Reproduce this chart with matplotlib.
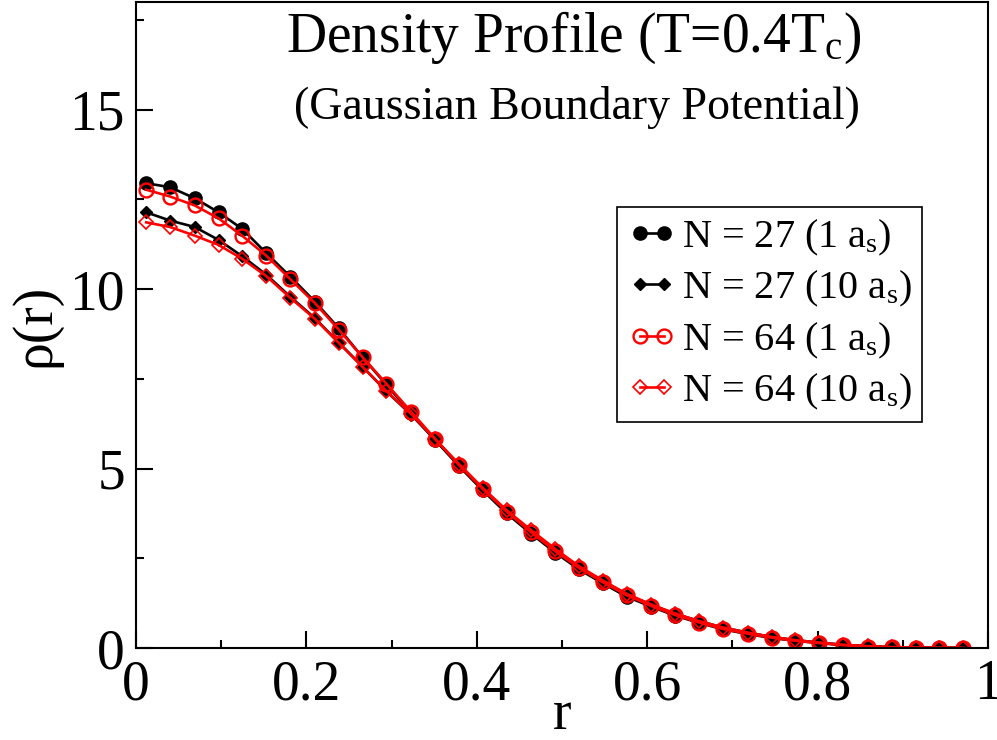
import numpy as np
import matplotlib
matplotlib.use("Agg")
import matplotlib.pyplot as plt

plt.rcParams['font.family'] = ['Liberation Serif', 'DejaVu Serif']
plt.rcParams['mathtext.fontset'] = 'custom'
plt.rcParams['mathtext.rm'] = 'Liberation Serif'
plt.rcParams['mathtext.it'] = 'Liberation Serif:italic'

# radial bins
r = [0.012, 0.040, 0.069, 0.097, 0.125, 0.153, 0.181, 0.210, 0.238, 0.266,
     0.294, 0.323, 0.351, 0.379, 0.407, 0.435, 0.464, 0.492, 0.520, 0.548,
     0.576, 0.605, 0.633, 0.661, 0.689, 0.718, 0.746, 0.774, 0.802, 0.830,
     0.859, 0.887, 0.915, 0.943, 0.971]

# density profiles
rho_27_1 = [12.95, 12.84, 12.53, 12.14, 11.67, 11.00, 10.35, 9.65, 8.91, 8.10,
            7.33, 6.54, 5.80, 5.07, 4.39, 3.75, 3.18, 2.66, 2.19, 1.80,
            1.43, 1.15, 0.90, 0.70, 0.52, 0.39, 0.28, 0.20, 0.14, 0.08,
            0.04, 0.02, 0.01, 0.005, 0.002]
rho_27_10 = [12.14, 11.91, 11.73, 11.37, 10.91, 10.40, 9.79, 9.19, 8.51, 7.84,
             7.15, 6.50, 5.80, 5.10, 4.42, 3.80, 3.24, 2.72, 2.25, 1.86,
             1.49, 1.20, 0.95, 0.75, 0.57, 0.43, 0.31, 0.22, 0.15, 0.09,
             0.05, 0.025, 0.012, 0.006, 0.002]
rho_64_1 = [12.77, 12.58, 12.33, 11.97, 11.48, 10.93, 10.28, 9.61, 8.87, 8.10,
            7.36, 6.58, 5.83, 5.10, 4.43, 3.80, 3.22, 2.70, 2.23, 1.83,
            1.47, 1.17, 0.92, 0.71, 0.53, 0.40, 0.29, 0.20, 0.14, 0.08,
            0.04, 0.02, 0.01, 0.005, 0.002]
rho_64_10 = [11.86, 11.73, 11.49, 11.23, 10.84, 10.36, 9.76, 9.17, 8.50, 7.83,
             7.16, 6.52, 5.82, 5.13, 4.46, 3.84, 3.28, 2.76, 2.28, 1.88,
             1.51, 1.21, 0.96, 0.75, 0.57, 0.43, 0.31, 0.22, 0.15, 0.09,
             0.05, 0.025, 0.012, 0.006, 0.002]

fig = plt.figure(figsize=(9.97, 7.40), dpi=100)
ax = fig.add_axes([0.1364, 0.1243, 0.8546, 0.873])

ax.plot(r, rho_27_1, color='black', lw=1.9, marker='o', ms=9.5,
        label=r'N = 27 (1 a$_\mathregular{s}$)')
ax.plot(r, rho_27_10, color='black', lw=1.9, marker='D', ms=6.5,
        label=r'N = 27 (10 a$_\mathregular{s}$)')
ax.plot(r, rho_64_1, color='red', lw=1.9, marker='o', ms=10, mfc='none',
        mew=1.7, label=r'N = 64 (1 a$_\mathregular{s}$)')
ax.plot(r, rho_64_10, color='red', lw=1.9, marker='D', ms=7, mfc='none',
        mew=1.2, label=r'N = 64 (10 a$_\mathregular{s}$)')

ax.set_xlim(0, 1)
ax.set_ylim(0, 18)
ax.set_xticks([0, 0.2, 0.4, 0.6, 0.8, 1.0])
ax.set_xticklabels(['0', '0.2', '0.4', '0.6', '0.8', '1'])
ax.set_xticks(np.arange(0.1, 1.0, 0.2), minor=True)
ax.set_yticks([0, 5, 10, 15])
ax.set_yticks([2.5, 7.5, 12.5, 17.5], minor=True)
ax.tick_params(which='both', direction='in', width=1.5, labelsize=40,
               top=False, right=False)
ax.tick_params(which='major', length=12, pad=8)
ax.tick_params(which='minor', length=6)
for s in ax.spines.values():
    s.set_linewidth(1.5)

ax.set_xlabel('r', fontsize=40, labelpad=-16)
ax.set_ylabel('ρ(r)', fontsize=40, labelpad=6)

ax.text(0.514, 0.945, r'Density Profile (T=0.4T$_\mathregular{c}$)',
        transform=ax.transAxes, ha='center', va='center', fontsize=40)
ax.text(0.517, 0.837, '(Gaussian Boundary Potential)',
        transform=ax.transAxes, ha='center', va='center', fontsize=33)

leg = ax.legend(loc='upper left', bbox_to_anchor=(0.565, 0.682), fontsize=29,
                numpoints=2, handlelength=1.2, handletextpad=0.15,
                labelspacing=0.28, borderpad=0.25, borderaxespad=0,
                fancybox=False, framealpha=1, edgecolor='black')
leg.get_frame().set_linewidth(1.2)

fig.savefig('out.png', dpi=100)
